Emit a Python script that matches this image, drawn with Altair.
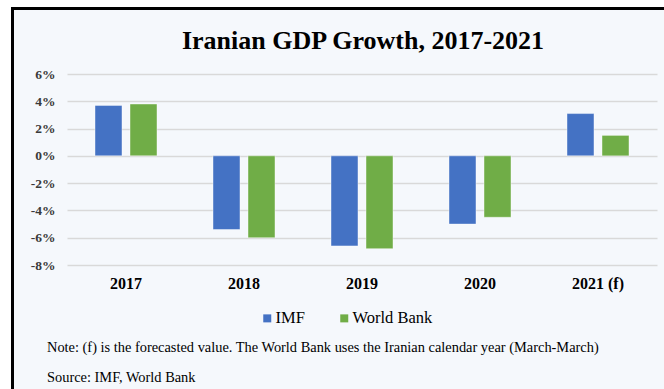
import altair as alt
import pandas as pd

years = ["2017", "2018", "2019", "2020", "2021 (f)"]
imf = [3.7, -5.4, -6.6, -5.0, 3.1]
world_bank = [3.8, -6.0, -6.8, -4.5, 1.5]
sources = ["IMF", "World Bank"]
colors = ["#4472C4", "#70AD47"]
y_ticks = [-8, -6, -4, -2, 0, 2, 4, 6]
title_text = "Iranian GDP Growth, 2017-2021"
note_text = "Note: (f) is the forecasted value. The World Bank uses the Iranian calendar year (March-March)"
source_text = "Source: IMF, World Bank"

rows = []
for i, yr in enumerate(years):
    rows.append({"year": yr, "source": "IMF", "growth": imf[i]})
    rows.append({"year": yr, "source": "World Bank", "growth": world_bank[i]})
df = pd.DataFrame(rows)

SERIF = "Liberation Serif"
one = pd.DataFrame({"a": [0]})

# white strips outside the black frame (left and top)
strip_left = alt.Chart(one).mark_rect(fill="#FFFFFF").encode(
    x=alt.value(-80), x2=alt.value(-56), y=alt.value(-80), y2=alt.value(420))
strip_top = alt.Chart(one).mark_rect(fill="#FFFFFF").encode(
    x=alt.value(-80), x2=alt.value(700), y=alt.value(-80), y2=alt.value(-67))
border = alt.Chart(one).mark_rect(fillOpacity=0, stroke="#000000", strokeWidth=3).encode(
    x=alt.value(-54.5), x2=alt.value(700), y=alt.value(-65.5), y2=alt.value(420))

bars = alt.Chart(df).mark_bar(stroke="#FFFFFF", strokeWidth=0.6, strokeOpacity=0.7).encode(
    x=alt.X("year:N", sort=years, title=None,
            scale=alt.Scale(paddingInner=0, paddingOuter=0),
            axis=alt.Axis(labelAngle=0, labelFont=SERIF, labelFontSize=16,
                          labelFontWeight="bold", labelColor="#000000",
                          domain=False, ticks=False, labelPadding=10, grid=False)),
    xOffset=alt.XOffset("source:N", sort=sources,
                        scale=alt.Scale(paddingInner=0.229, paddingOuter=0.8)),
    y=alt.Y("growth:Q", title=None,
            scale=alt.Scale(domain=[-8, 6], nice=False),
            axis=alt.Axis(values=y_ticks, labelExpr="datum.value + '%'",
                          labelFont=SERIF, labelFontSize=13.5, labelColor="#3A3A3A",
                          labelFontWeight="bold",
                          domain=False, ticks=False, labelPadding=12,
                          grid=True, gridColor="#D9D9D9", gridWidth=1.3)),
    color=alt.Color("source:N", sort=sources,
                    scale=alt.Scale(domain=sources, range=colors),
                    legend=alt.Legend(title=None, orient="none", direction="horizontal",
                                      legendX=192, legendY=236, symbolType="square",
                                      symbolSize=64, symbolStrokeWidth=0,
                                      labelFont=SERIF, labelFontSize=16.5,
                                      labelColor="#000000", columnPadding=31,
                                      labelOffset=0, padding=0)),
)

title = alt.Chart(pd.DataFrame({"t": [title_text]})).mark_text(
    align="center", baseline="middle", font=SERIF, fontSize=26, fontWeight="bold",
    color="#000000"
).encode(text="t:N", x=alt.value(296), y=alt.value(-33))

note = alt.Chart(pd.DataFrame({"t": [note_text]})).mark_text(
    align="left", baseline="middle", font=SERIF, fontSize=14.4, color="#000000"
).encode(text="t:N", x=alt.value(-20), y=alt.value(274))

src = alt.Chart(pd.DataFrame({"t": [source_text]})).mark_text(
    align="left", baseline="middle", font=SERIF, fontSize=14.4, color="#000000"
).encode(text="t:N", x=alt.value(-20), y=alt.value(304))

chart = alt.layer(strip_left, strip_top, border, bars, title, note, src).properties(
    width=590, height=191,
    autosize=alt.AutoSizeParams(type="none"),
    padding={"left": 67, "top": 74, "right": 7, "bottom": 124},
    background="#F5F8FC",
).configure_view(stroke=None)

chart.save("out.html", embed_options={"renderer": "svg", "actions": False})
